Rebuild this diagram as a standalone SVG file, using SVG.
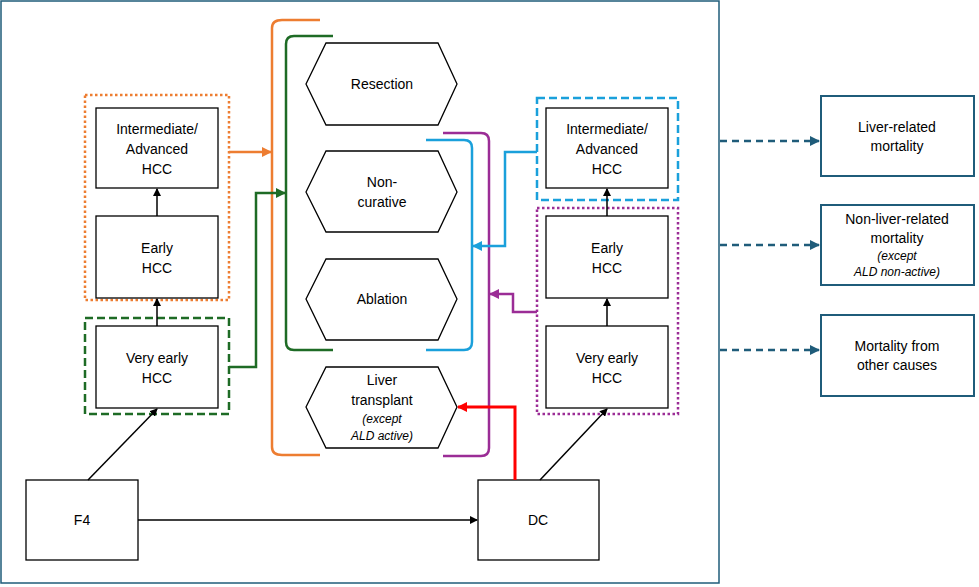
<svg xmlns="http://www.w3.org/2000/svg" width="979" height="587" viewBox="0 0 979 587">
<defs>
<style>
text{font-family:"Liberation Sans",Arial,sans-serif;font-size:14px;fill:#000;text-anchor:middle}
.it{font-style:italic;font-size:12px}
.b{fill:#fff;stroke:#000;stroke-width:1.3}
.m{fill:#fff;stroke:#1F5C7A;stroke-width:2}
.c{fill:none;stroke-width:2.5}
</style>
<marker id="ak" markerWidth="8" markerHeight="8" refX="7" refY="4" orient="auto" markerUnits="userSpaceOnUse"><path d="M0,0L8,4L0,8z" fill="#000"/></marker>
<marker id="ao" markerWidth="10" markerHeight="10" refX="9" refY="5" orient="auto" markerUnits="userSpaceOnUse"><path d="M0,0L10,5L0,10z" fill="#ED7D31"/></marker>
<marker id="ag" markerWidth="10" markerHeight="10" refX="9" refY="5" orient="auto" markerUnits="userSpaceOnUse"><path d="M0,0L10,5L0,10z" fill="#1E6B25"/></marker>
<marker id="ab" markerWidth="10" markerHeight="10" refX="9" refY="5" orient="auto" markerUnits="userSpaceOnUse"><path d="M0,0L10,5L0,10z" fill="#1AA0DB"/></marker>
<marker id="ap" markerWidth="10" markerHeight="10" refX="9" refY="5" orient="auto" markerUnits="userSpaceOnUse"><path d="M0,0L10,5L0,10z" fill="#9B2D96"/></marker>
<marker id="ar" markerWidth="10" markerHeight="10" refX="9" refY="5" orient="auto" markerUnits="userSpaceOnUse"><path d="M0,0L10,5L0,10z" fill="#FF0000"/></marker>
<marker id="ad" markerWidth="10" markerHeight="10" refX="9" refY="5" orient="auto" markerUnits="userSpaceOnUse"><path d="M0,0L10,5L0,10z" fill="#1F5C7A"/></marker>
</defs>
<rect width="979" height="587" fill="#fff"/>
<rect x="1" y="1" width="718" height="582" fill="none" stroke="#1F5C7A" stroke-width="1.5"/>

<g id="groups">
<rect x="85" y="95" width="144" height="205" fill="none" stroke="#ED7D31" stroke-width="2.5" stroke-dasharray="2.5 2.5"/>
<rect x="85" y="318" width="144" height="96" fill="none" stroke="#1E6B25" stroke-width="2.5" stroke-dasharray="8 4"/>
<rect x="537" y="98" width="141" height="102" fill="none" stroke="#1AA0DB" stroke-width="2.5" stroke-dasharray="8 4"/>
<rect x="537" y="208" width="141" height="206" fill="none" stroke="#9B2D96" stroke-width="2.5" stroke-dasharray="2.5 2.5"/>
</g>

<g id="brackets">
<path class="c" stroke="#ED7D31" d="M320,20H282Q272,20 272,28V447Q272,455 282,455H320"/>
<path class="c" stroke="#1E6B25" d="M333,36H294Q286,36 286,44V342Q286,350 294,350H333"/>
<path class="c" stroke="#1AA0DB" d="M426,140H464Q472,140 472,148V342Q472,350 464,350H426"/>
<path class="c" stroke="#9B2D96" d="M443,133H481Q489,133 489,141V448Q489,456 481,456H443"/>
</g>

<g id="n-l-int"><rect class="b" x="96" y="108" width="122" height="80"/><text x="157" y="134">Intermediate/</text><text x="157" y="154">Advanced</text><text x="157" y="174">HCC</text></g>
<g id="n-l-early"><rect class="b" x="96" y="216" width="122" height="82"/><text x="157" y="253">Early</text><text x="157" y="273">HCC</text></g>
<g id="n-l-vearly"><rect class="b" x="96" y="326" width="122" height="82"/><text x="157" y="363">Very early</text><text x="157" y="383">HCC</text></g>
<g id="n-r-int"><rect class="b" x="546" y="108" width="122" height="80"/><text x="607" y="134">Intermediate/</text><text x="607" y="154">Advanced</text><text x="607" y="174">HCC</text></g>
<g id="n-r-early"><rect class="b" x="546" y="216" width="122" height="82"/><text x="607" y="253">Early</text><text x="607" y="273">HCC</text></g>
<g id="n-r-vearly"><rect class="b" x="546" y="326" width="122" height="82"/><text x="607" y="363">Very early</text><text x="607" y="383">HCC</text></g>
<g id="n-f4"><rect class="b" x="26" y="480" width="112" height="80"/><text x="82" y="525">F4</text></g>
<g id="n-dc"><rect class="b" x="478" y="480" width="121" height="80"/><text x="538" y="525">DC</text></g>

<g id="n-resection"><path class="b" d="M306,84L326,43H438L457,84L438,125H326Z"/><text x="382" y="89">Resection</text></g>
<g id="n-noncur"><path class="b" d="M306,192L326,151H438L457,192L438,232H326Z"/><text x="382" y="187">Non-</text><text x="382" y="207">curative</text></g>
<g id="n-ablation"><path class="b" d="M306,299L326,259H438L457,299L438,340H326Z"/><text x="382" y="304">Ablation</text></g>
<g id="n-lt"><path class="b" d="M306,407L326,367H438L457,407L438,448H326Z"/><text x="382" y="385">Liver</text><text x="382" y="405">transplant</text><text class="it" x="382" y="423">(except</text><text class="it" x="382" y="440">ALD active)</text></g>

<g id="n-m1"><rect class="m" x="821" y="96" width="153" height="80"/><text x="897" y="132">Liver-related</text><text x="897" y="151">mortality</text></g>
<g id="n-m2"><rect class="m" x="821" y="205" width="153" height="80"/><text x="897" y="224">Non-liver-related</text><text x="897" y="243">mortality</text><text class="it" x="897" y="260">(except</text><text class="it" x="897" y="276">ALD non-active)</text></g>
<g id="n-m3"><rect class="m" x="821" y="315" width="153" height="81"/><text x="897" y="351">Mortality from</text><text x="897" y="370">other causes</text></g>

<g id="connectors" fill="none">
<path d="M157,326V299" stroke="#000" stroke-width="1.5" marker-end="url(#ak)"/>
<path d="M157,216V189" stroke="#000" stroke-width="1.5" marker-end="url(#ak)"/>
<path d="M607,326V299" stroke="#000" stroke-width="1.5" marker-end="url(#ak)"/>
<path d="M607,216V189" stroke="#000" stroke-width="1.5" marker-end="url(#ak)"/>
<path d="M88,480L157,409" stroke="#000" stroke-width="1.5" marker-end="url(#ak)"/>
<path d="M540,480L607,409" stroke="#000" stroke-width="1.5" marker-end="url(#ak)"/>
<path d="M138,520H477" stroke="#000" stroke-width="1.5" marker-end="url(#ak)"/>
<path d="M229,152H271" stroke="#ED7D31" stroke-width="2.5" marker-end="url(#ao)"/>
<path d="M229,367H256V193H285" stroke="#1E6B25" stroke-width="2.5" marker-end="url(#ag)"/>
<path d="M537,152H505V246H473" stroke="#1AA0DB" stroke-width="2.5" marker-end="url(#ab)"/>
<path d="M537,312H513V294H490" stroke="#9B2D96" stroke-width="2.5" marker-end="url(#ap)"/>
<path d="M515,480V407H458" stroke="#FF0000" stroke-width="3" marker-end="url(#ar)"/>
<path d="M720,141H819" stroke="#1F5C7A" stroke-width="2.5" stroke-dasharray="7 5" marker-end="url(#ad)"/>
<path d="M720,245H819" stroke="#1F5C7A" stroke-width="2.5" stroke-dasharray="7 5" marker-end="url(#ad)"/>
<path d="M720,350H819" stroke="#1F5C7A" stroke-width="2.5" stroke-dasharray="7 5" marker-end="url(#ad)"/>
</g>
</svg>
